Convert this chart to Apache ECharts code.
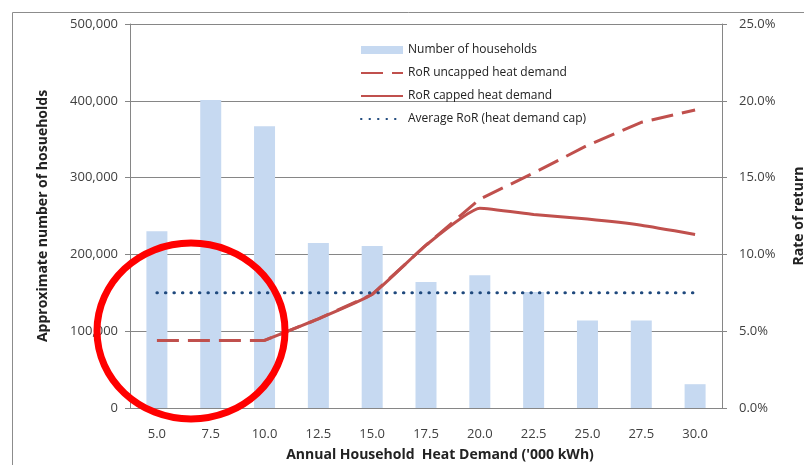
<!DOCTYPE html>
<html>
<head>
<meta charset="utf-8">
<script src="https://cdn.jsdelivr.net/npm/echarts@6/dist/echarts.min.js"></script>
<style>
  html, body { margin: 0; padding: 0; background: #fff; }
  #main { width: 804px; height: 465px; }
</style>
</head>
<body>
<div id="main"></div>
<script>
// heat demand bands ('000 kWh)
const categories = ["5.0", "7.5", "10.0", "12.5", "15.0", "17.5", "20.0", "22.5", "25.0", "27.5", "30.0"];
// approx number of households per band
const households = [230000, 401000, 367000, 215000, 211000, 164000, 173000, 151000, 114000, 114000, 31000];
// rate of return, %
const rorUncapped = [4.4, 4.4, 4.4, 5.8, 7.4, 10.6, 13.6, 15.3, 17.1, 18.6, 19.4];
const rorCapped = [null, null, 4.4, 5.8, 7.4, 10.6, 13.0, 12.6, 12.3, 11.9, 11.3];
const avgRor = [7.5, 7.5, 7.5, 7.5, 7.5, 7.5, 7.5, 7.5, 7.5, 7.5, 7.5];

const font = "'Open Sans', sans-serif";
const gridGrey = "#868686";
const labelGrey = "#404040";

const chart = echarts.init(document.getElementById("main"), null, { renderer: "canvas" });

// hide the symbol dot in legend entries for lines
const noDot = { opacity: 0 };

const option = {
  backgroundColor: "#fff",
  animation: false,
  // title on the right is cut off by the edge, like the original
  grid: { left: 130, right: 82, top: 24, bottom: 57, outerBoundsMode: "none" },
  legend: {
    orient: "vertical",
    left: 355,
    top: 38,
    itemWidth: 42,
    itemHeight: 8,
    itemGap: 9,
    textStyle: { fontFamily: font, fontSize: 12, color: "#222", lineHeight: 14 },
    data: [
      { name: "Number of households", icon: "rect" },
      { name: "RoR uncapped heat demand", itemStyle: noDot },
      { name: "RoR capped heat demand", itemStyle: noDot },
      { name: "Average RoR (heat demand cap)", itemStyle: noDot }
    ]
  },
  xAxis: {
    type: "category",
    data: categories,
    name: "Annual Household  Heat Demand ('000 kWh)",
    nameLocation: "middle",
    nameGap: 40,
    nameTextStyle: { fontFamily: font, fontSize: 14, fontWeight: "bold", color: "#222", padding: [0, 0, 0, 28] },
    axisLine: { lineStyle: { color: gridGrey } },
    axisTick: { length: 5, lineStyle: { color: gridGrey } },
    axisLabel: { margin: 20, fontFamily: font, fontSize: 13, color: labelGrey }
  },
  yAxis: [
    {
      type: "value",
      min: 0,
      max: 500000,
      interval: 100000,
      name: "Approximate number of hosueholds",
      nameLocation: "middle",
      nameGap: 80,
      nameTextStyle: { fontFamily: font, fontSize: 14, fontWeight: "bold", color: "#222" },
      axisLine: { show: true, lineStyle: { color: gridGrey } },
      axisTick: { show: true, length: 5, lineStyle: { color: gridGrey } },
      splitLine: { lineStyle: { color: gridGrey } },
      axisLabel: {
        margin: 12,
        fontFamily: font,
        fontSize: 13,
        color: labelGrey,
        formatter: v => v.toLocaleString("en-US")
      }
    },
    {
      type: "value",
      min: 0,
      max: 25,
      interval: 5,
      name: "Rate of return",
      nameLocation: "middle",
      nameGap: 70,
      nameTextStyle: { fontFamily: font, fontSize: 14, fontWeight: "bold", color: "#222" },
      axisLine: { show: true, lineStyle: { color: gridGrey } },
      axisTick: { show: true, length: 5, lineStyle: { color: gridGrey } },
      splitLine: { show: false },
      axisLabel: {
        margin: 17,
        fontFamily: font,
        fontSize: 13,
        color: labelGrey,
        formatter: v => v.toFixed(1) + "%"
      }
    }
  ],
  series: [
    {
      name: "Number of households",
      type: "bar",
      data: households,
      barWidth: 21,
      itemStyle: { color: "#C6D9F1" }
    },
    {
      name: "RoR uncapped heat demand",
      type: "line",
      yAxisIndex: 1,
      data: rorUncapped,
      symbol: "none",
      lineStyle: { color: "#C0504D", width: 3, type: [22, 9] },
      itemStyle: { color: "#C0504D" }
    },
    {
      name: "RoR capped heat demand",
      type: "line",
      yAxisIndex: 1,
      data: rorCapped,
      symbol: "none",
      smooth: 0.15,
      lineStyle: { color: "#C0504D", width: 3 },
      itemStyle: { color: "#C0504D" }
    },
    {
      name: "Average RoR (heat demand cap)",
      type: "line",
      yAxisIndex: 1,
      data: avgRor,
      symbol: "none",
      lineStyle: { color: "#1F497D", width: 3, type: [0.5, 8], cap: "round" },
      itemStyle: { color: "#1F497D" }
    }
  ],
  graphic: [
    {
      type: "rect",
      silent: true,
      shape: { x: 12.5, y: 12.5, width: 820, height: 480 },
      style: { fill: "none", stroke: "#8c8c8c", lineWidth: 1 }
    },
    {
      // red highlight ring
      type: "ellipse",
      silent: true,
      z: 100,
      shape: { cx: 191, cy: 331, rx: 94, ry: 88 },
      style: { fill: "none", stroke: "#FF0000", lineWidth: 7 }
    }
  ]
};

chart.setOption(option);
</script>
</body>
</html>
